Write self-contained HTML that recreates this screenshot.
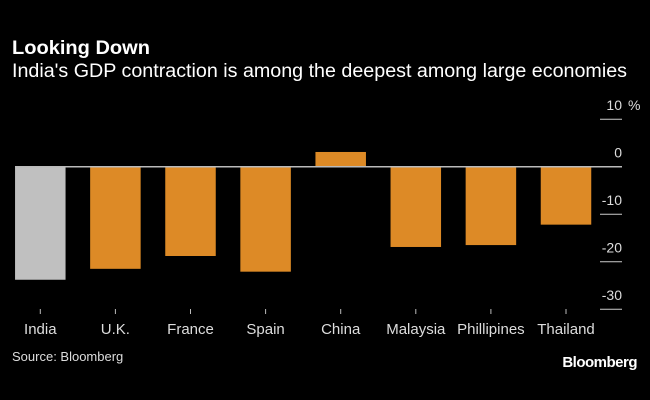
<!DOCTYPE html>
<html><head><meta charset="utf-8"><style>
body{margin:0;background:#000;width:650px;height:400px;overflow:hidden;font-family:"Liberation Sans",sans-serif;color:#fff}
svg{position:absolute;left:0;top:0}
</style></head><body>
<svg width="650" height="400">
<text x="12" y="54" font-size="19" font-weight="bold" fill="#fff" textLength="138" lengthAdjust="spacingAndGlyphs">Looking Down</text>
<text x="12" y="77" font-size="19" fill="#fff" textLength="615" lengthAdjust="spacingAndGlyphs">India's GDP contraction is among the deepest among large economies</text>
<g id="plot"></g>
<text x="12" y="361" font-size="13" fill="#ddd">Source: Bloomberg</text>
<text x="637" y="367" font-size="15" font-weight="bold" fill="#fff" text-anchor="end" letter-spacing="-0.5">Bloomberg</text>
</svg>
<script>
const categories=["India","U.K.","France","Spain","China","Malaysia","Phillipines","Thailand"];
const values=[-23.8,-21.5,-18.8,-22.1,3.1,-16.9,-16.5,-12.2];
const ticks=[10,0,-10,-20,-30];
const ns="http://www.w3.org/2000/svg";
const g=document.getElementById("plot");
const y=v=>166.7-v*4.75;
const xc=i=>40.3+i*75.1;
const bw=50.5;
function el(t,a){const e=document.createElementNS(ns,t);for(const k in a)e.setAttribute(k,a[k]);g.appendChild(e);return e;}
ticks.forEach(t=>{
 if(t!==0){
  const l=el("line",{x1:600,x2:622,y1:y(t),y2:y(t),stroke:"#ccc","stroke-width":1});
  
  
 }
 const tx=el("text",{x:622,y:y(t)-9,"font-size":14,fill:"#ddd","text-anchor":"end"});
 tx.textContent=String(t);
 
 
});
const pct=el("text",{x:628,y:y(10)-9,"font-size":14,fill:"#ddd"});pct.textContent="%";


categories.forEach((c,i)=>{
 const v=values[i];
 const r=el("rect",{x:xc(i)-bw/2,width:bw,y:Math.min(y(v),y(0)),height:Math.abs(y(v)-y(0)),fill:i===0?"#c0c0c0":"#dd8a26"});
 
 
 const tk=el("line",{x1:xc(i),x2:xc(i),y1:309,y2:314,stroke:"#bbb","stroke-width":1});
 
 
 const t=el("text",{x:xc(i),y:334,"font-size":15,fill:"#ddd","text-anchor":"middle"});
 t.textContent=c;
 
 
});
const z=el("line",{x1:15,x2:622,y1:y(0),y2:y(0),stroke:"#bbb","stroke-width":1.5});


</script>
</body></html>
